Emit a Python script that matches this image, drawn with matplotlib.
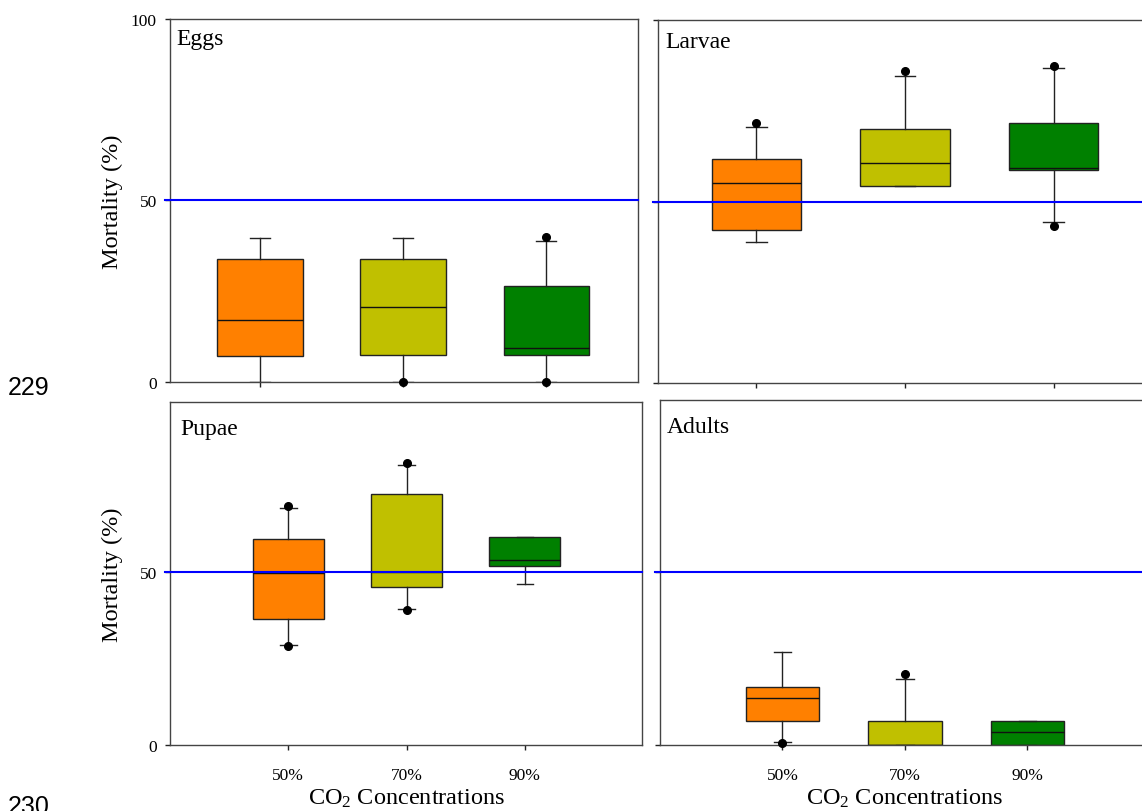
import matplotlib
matplotlib.use("Agg")
import matplotlib.pyplot as plt

plt.rcParams["font.family"] = ["Liberation Serif", "DejaVu Serif"]
plt.rcParams["mathtext.fontset"] = "custom"
plt.rcParams["mathtext.rm"] = "Liberation Serif"
plt.rcParams["mathtext.it"] = "Liberation Serif:italic"

# CO2 treatment levels
concentrations = ["50%", "70%", "90%"]
box_colors = ["#FF8000", "#C0C000", "#008000"]

# box summaries per stage: (whislo, q1, median, q3, whishi)
eggs_stats = [(0.0, 7.2, 17.1, 33.9, 39.7),
              (0.0, 7.5, 20.7, 34.0, 39.7),
              (0.0, 7.5, 9.5, 26.4, 38.9)]
eggs_points = [[], [0.0], [0.0, 39.9]]

larvae_stats = [(38.9, 42.1, 55.0, 61.6, 70.4),
                (54.2, 54.2, 60.5, 69.9, 84.7),
                (44.4, 58.7, 59.1, 71.5, 86.8)]
larvae_points = [[71.5], [85.9], [43.3, 87.4]]

pupae_stats = [(28.9, 36.4, 49.8, 59.5, 68.6),
               (39.3, 45.6, 49.9, 72.5, 81.0),
               (46.6, 51.6, 53.4, 60.0, 60.0)]
pupae_points = [[28.7, 69.0], [39.0, 81.6], []]

adults_stats = [(1.0, 6.8, 13.6, 16.9, 27.0),
                (0.0, 0.0, 0.0, 6.8, 19.0),
                (0.0, 0.0, 3.7, 6.8, 6.8)]
adults_points = [[0.5], [20.5], []]

reference_level = 50

fig = plt.figure(figsize=(11.42, 8.12), dpi=100)

panels = [
    # name, stats, points, rect, xlim, ylim, yticks, show y labels, show x labels, title pos
    ("Eggs", eggs_stats, eggs_points, [0.1489, 0.5283, 0.4098, 0.4471],
     (0.37, 3.64), (0, 100), [0, 50, 100], True, False, (0.013, 0.931)),
    ("Larvae", larvae_stats, larvae_points, [0.5762, 0.5271, 0.4299, 0.4470],
     (0.34, 3.64), (0, 100), [0, 50, 100], False, False, (0.014, 0.926)),
    ("Pupae", pupae_stats, pupae_points, [0.1489, 0.0813, 0.4133, 0.4224],
     (0.0, 3.99), (0, 99.1), [0, 50], True, True, (0.021, 0.907)),
    ("Adults", adults_stats, adults_points, [0.5779, 0.0813, 0.4291, 0.4249],
     (0.0, 4.0), (0, 99.7), [0, 50], False, True, (0.014, 0.907)),
]

for name, stats, points, rect, xlim, ylim, yticks, ylab, xlab, tpos in panels:
    ax = fig.add_axes(rect)
    bstats = []
    for (lo, q1, med, q3, hi), pts in zip(stats, points):
        bstats.append(dict(whislo=lo, q1=q1, med=med, q3=q3, whishi=hi, fliers=pts))
    arts = ax.bxp(bstats, positions=[1, 2, 3], widths=0.6, capwidths=0.14,
                  patch_artist=True, showfliers=True,
                  boxprops=dict(edgecolor="#222222", linewidth=1.0),
                  medianprops=dict(color="#111111", linewidth=1.0),
                  whiskerprops=dict(color="#222222", linewidth=1.0),
                  capprops=dict(color="#222222", linewidth=1.0),
                  flierprops=dict(marker="o", markerfacecolor="black",
                                  markeredgecolor="black", markersize=5.5))
    for patch, c in zip(arts["boxes"], box_colors):
        patch.set_facecolor(c)
    for fl in arts["fliers"]:
        fl.set_clip_on(False)
        fl.set_zorder(5)

    ax.axhline(reference_level, xmin=-0.01, xmax=1.0, color="#0000FF",
               linewidth=1.5, zorder=4, clip_on=False)

    ax.set_xticks([1, 2, 3])
    ax.set_yticks(yticks)
    ax.set_xlim(*xlim)
    ax.set_ylim(*ylim)
    ax.tick_params(direction="out", length=3.6, width=1.0, color="#222222")
    ax.tick_params(axis="y", labelsize=12.5, pad=6)
    ax.tick_params(axis="x", labelsize=12.5, pad=12)
    for sp in ax.spines.values():
        sp.set_color("#444444")
        sp.set_linewidth(1.0)

    if ylab:
        ax.set_ylabel("Mortality (%)", fontsize=17.5)
        ax.yaxis.set_label_coords(-0.100, 0.5)
    else:
        ax.set_yticklabels([])
    if xlab:
        ax.set_xticklabels(concentrations)
        ax.set_xlabel("CO$_2$ Concentrations", fontsize=17.5, labelpad=3)
    else:
        ax.set_xticklabels([])

    ax.text(tpos[0], tpos[1], name, transform=ax.transAxes, fontsize=17,
            ha="left", va="baseline")

# manuscript line numbers
fig.text(0.0065, 0.5135, "229", fontsize=18, family=["Liberation Sans", "DejaVu Sans"],
         ha="left", va="baseline")
fig.text(0.0065, -0.002, "230", fontsize=18, family=["Liberation Sans", "DejaVu Sans"],
         ha="left", va="baseline")

fig.savefig("out.png", dpi=100)
